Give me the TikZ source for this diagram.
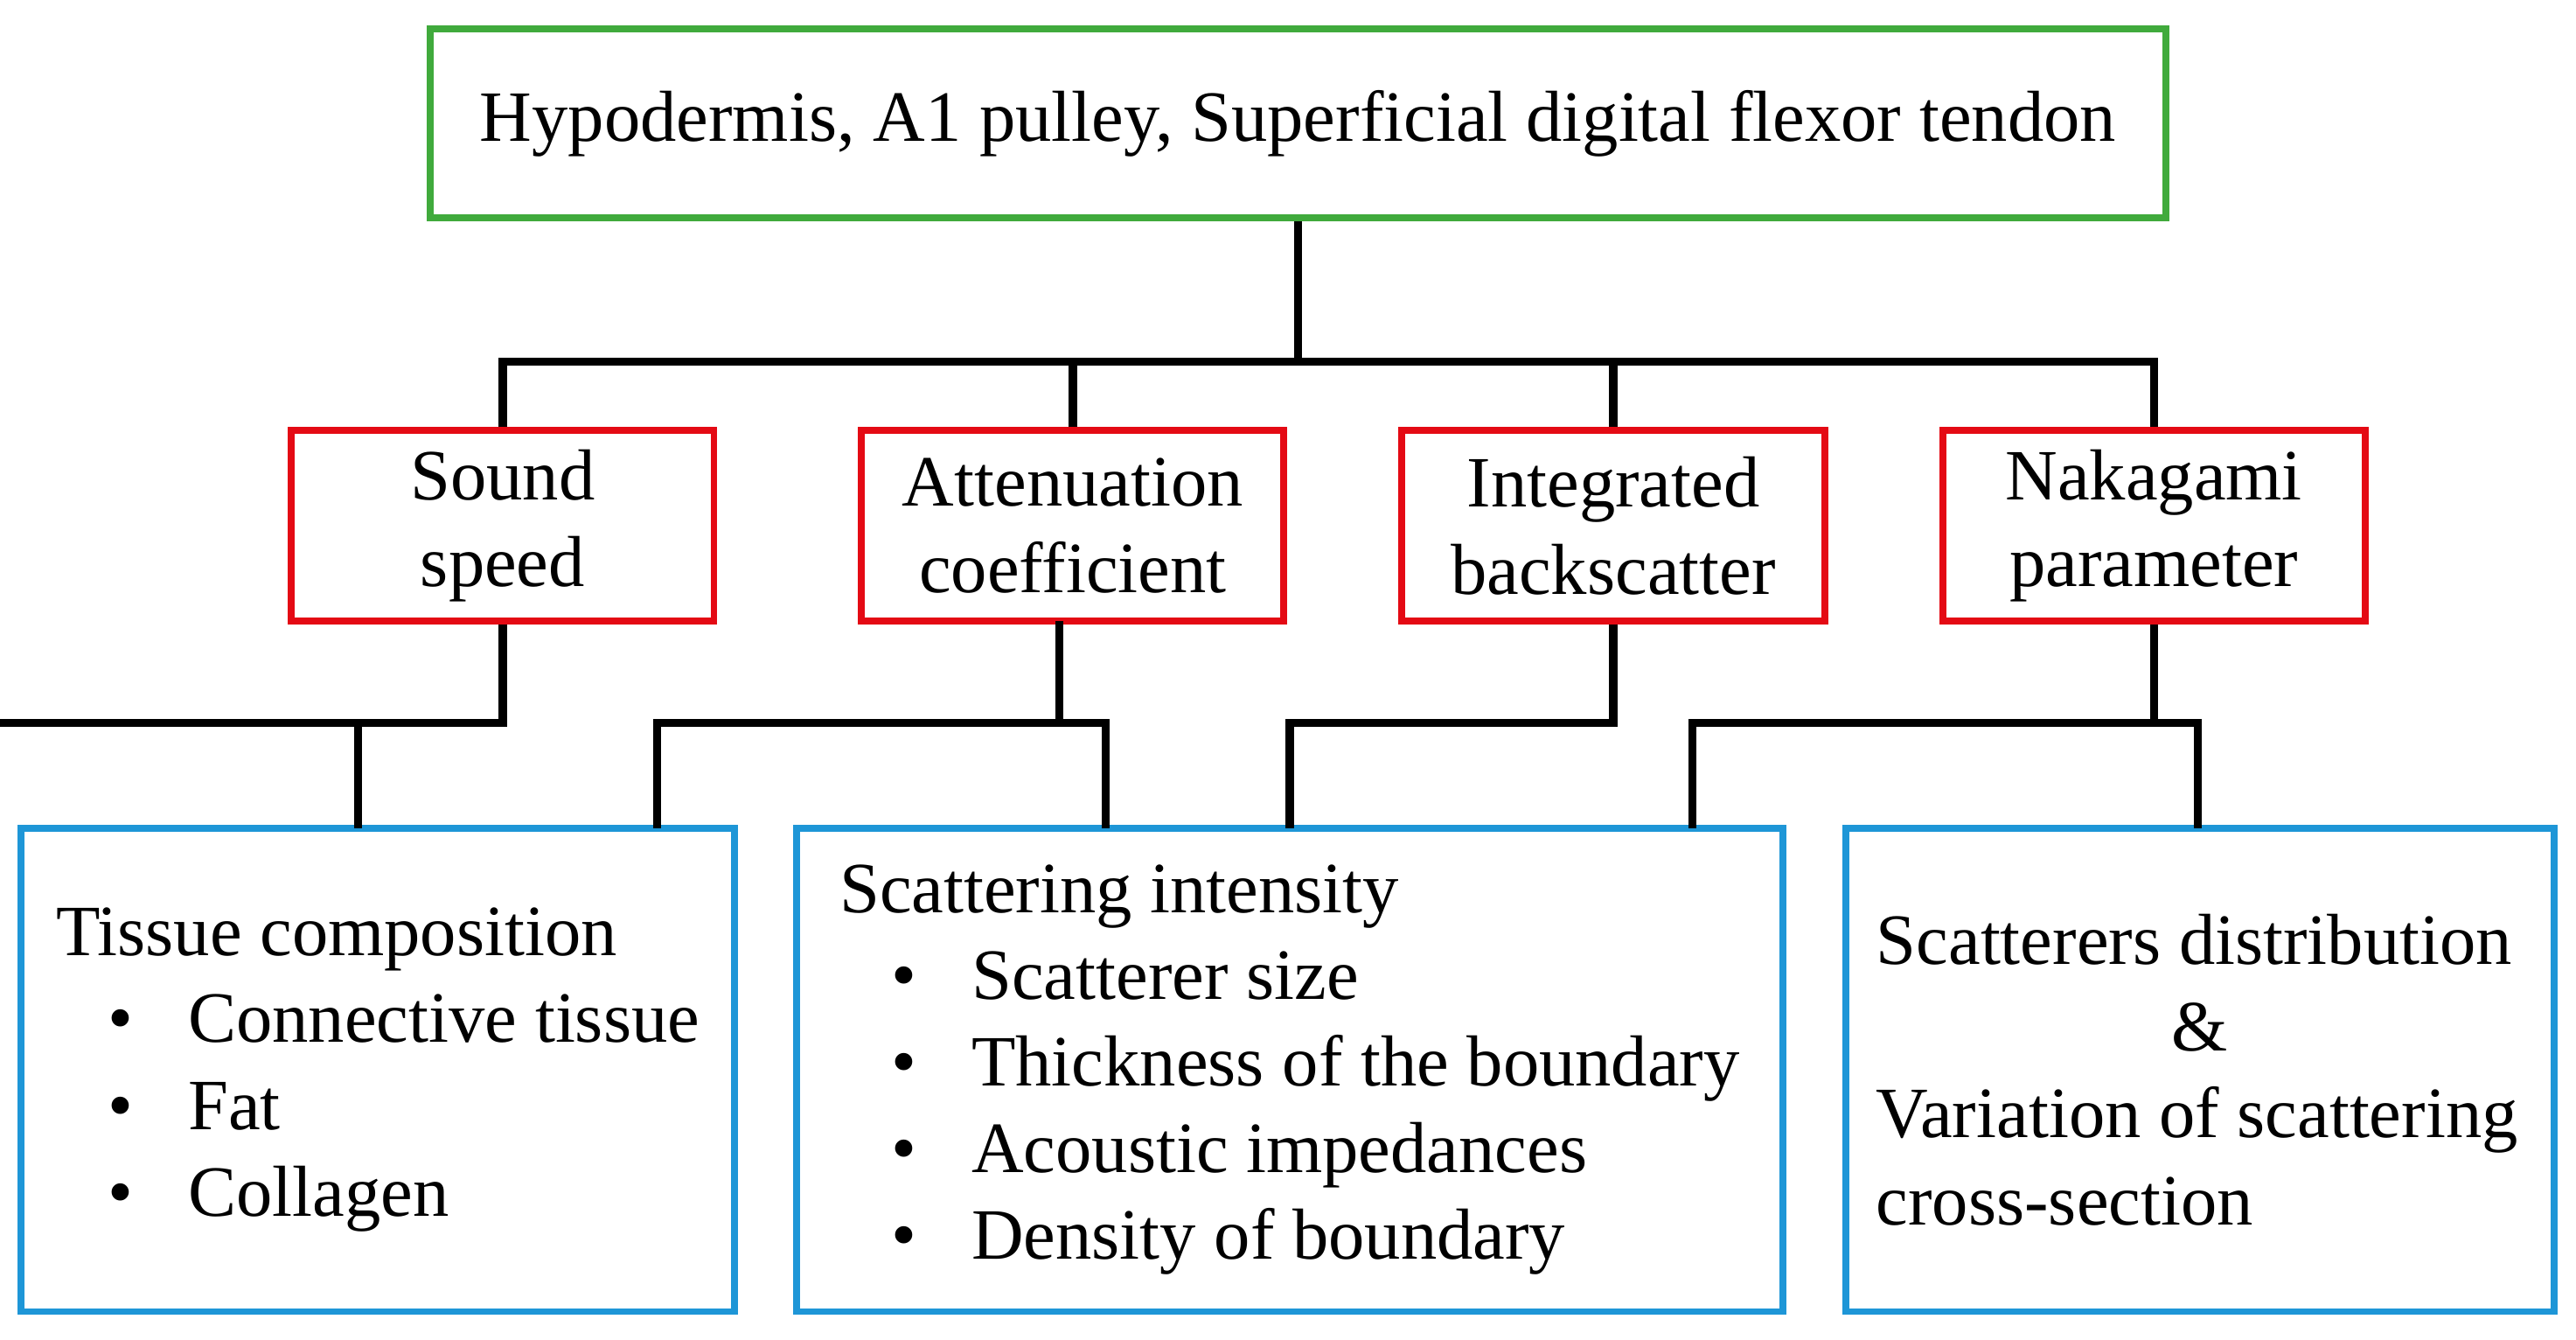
\documentclass[tikz,border=0pt]{standalone}
\usepackage{fontspec}
\setmainfont{Liberation Serif}
\definecolor{topgreen}{RGB}{64,170,60}
\definecolor{boxred}{RGB}{228,10,20}
\definecolor{boxblue}{RGB}{30,150,215}
\newcommand{\itm}{\hspace*{9pt}\textbullet\hspace{9.5pt}}
\begin{document}
\begin{tikzpicture}[x=0.01cm,y=-0.01cm,
  box/.style={draw,line width=1.2pt,inner sep=0pt,font=\fontsize{12.5}{15}\selectfont},
  link/.style={line width=1.4pt}]
\useasboundingbox (0,0) rectangle (1568,815);
\node[box,draw=topgreen,minimum width=10.56cm,minimum height=1.15cm,align=center] (top) at (790,75) {Hypodermis, A1 pulley, Superficial digital flexor tendon};
% parameter boxes
\tikzset{param/.style={box,draw=boxred,minimum width=2.57cm,minimum height=1.16cm,align=center}}
\node[param] (sound) at (306,320) {Sound\\speed};
\node[param] (atten) at (653,320) {Attenuation\\coefficient};
\node[param] (ibs) at (982,320) {Integrated\\backscatter};
\node[param] (naka) at (1311,320) {Nakagami\\parameter};
% property boxes
\tikzset{prop/.style={box,draw=boxblue,minimum height=2.94cm,align=left}}
\node[prop,minimum width=4.34cm] (tissue) at (230,651) {Tissue composition\\\itm Connective tissue\\\itm Fat\\\itm Collagen};
\node[prop,minimum width=6.00cm] (scat) at (785,651) {Scattering intensity\\\itm Scatterer size\\\itm Thickness of the boundary\\\itm Acoustic impedances\\\itm Density of boundary};
\node[prop,minimum width=4.31cm] (dist) at (1339,651) {Scatterers distribution\\\makebox[112pt]{\&}\\Variation of scattering\\cross-section};
% connectors
\coordinate (bus) at (790,220);
\draw[link] (top.south) -- (bus);
\foreach \n in {sound,atten,ibs,naka}
  \draw[link] (bus) -| (\n.north);
\coordinate (attenout) at (645,378);
\coordinate (t1) at (218,504);
\coordinate (t2) at (400,504);
\coordinate (s1) at (673,504);
\coordinate (s2) at (785,504);
\coordinate (d1) at (1030,504);
\coordinate (d2) at (1338,504);
\draw[link] (sound.south) |- (0,440) coordinate (sj);
\draw[link] (306,440) -| (t1);
\draw[link] (attenout) -- (645,440);
\draw[link] (t2) |- (645,440) -| (s1);
\draw[link] (ibs.south) |- (785,440) -- (s2);
\draw[link] (naka.south) -- (1311,440);
\draw[link] (d1) |- (1311,440) -| (d2);
\end{tikzpicture}
\end{document}
